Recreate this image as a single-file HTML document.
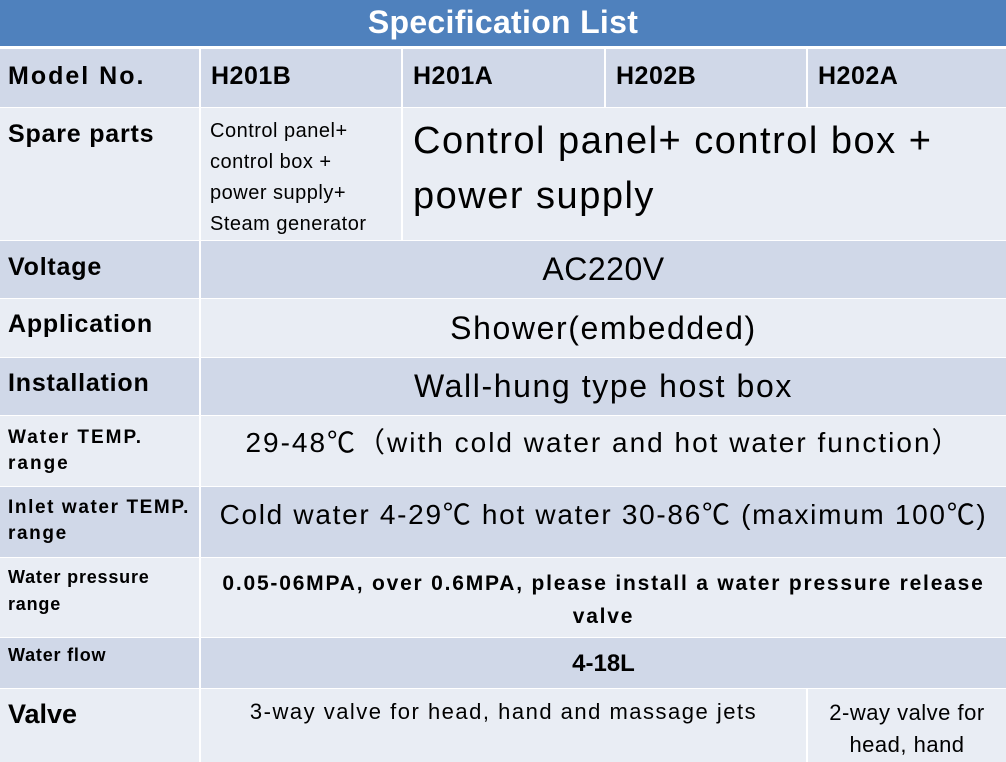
<!DOCTYPE html>
<html><head><meta charset="utf-8"><style>
body{margin:0;width:1006px;height:762px;overflow:hidden;background:#fff;font-family:"Liberation Sans","Noto Sans CJK SC",sans-serif;color:#000}
.c{position:absolute;box-sizing:border-box;overflow:hidden;white-space:nowrap}
.d{background:#D0D8E8}.l{background:#E9EDF4}
.b{font-weight:bold}
.ctr{text-align:center}
</style></head><body>
<div class="c" style="left:0;top:0;width:1006px;height:46px;background:#4F81BD;color:#fff;font-weight:bold;font-size:32px;text-align:center;line-height:44px;letter-spacing:0.3px">Specification List</div>
<div class="c d b" style="left:0;top:49px;width:199px;height:58px;font-size:25px;padding:13px 0 0 8px;letter-spacing:2px">Model No.</div>
<div class="c d b" style="left:201px;top:49px;width:200px;height:58px;font-size:25px;padding:13px 0 0 10px;letter-spacing:0.5px">H201B</div>
<div class="c d b" style="left:403px;top:49px;width:201px;height:58px;font-size:25px;padding:13px 0 0 10px;letter-spacing:0.5px">H201A</div>
<div class="c d b" style="left:606px;top:49px;width:200px;height:58px;font-size:25px;padding:13px 0 0 10px;letter-spacing:0.5px">H202B</div>
<div class="c d b" style="left:808px;top:49px;width:198px;height:58px;font-size:25px;padding:13px 0 0 10px;letter-spacing:0.5px">H202A</div>
<div class="c l b" style="left:0;top:108px;width:199px;height:132px;font-size:25px;padding:12px 0 0 8px;letter-spacing:0.8px">Spare parts</div>
<div class="c l" style="left:201px;top:108px;width:200px;height:132px;font-size:20px;line-height:31px;padding:8px 0 0 9px;letter-spacing:0.5px">Control panel+<br>control box +<br>power supply+<br>Steam generator</div>
<div class="c l" style="left:403px;top:108px;width:603px;height:132px;font-size:38px;line-height:55px;padding:6px 0 0 10px;letter-spacing:1.5px">Control panel+ control box +<br>power supply</div>
<div class="c d b" style="left:0;top:241px;width:199px;height:57px;font-size:25px;padding:12px 0 0 8px;letter-spacing:0.8px">Voltage</div>
<div class="c d ctr" style="left:201px;top:241px;width:805px;height:57px;font-size:32px;line-height:57px;letter-spacing:0.5px">AC220V</div>
<div class="c l b" style="left:0;top:299px;width:199px;height:58px;font-size:25px;padding:11px 0 0 8px;letter-spacing:0.8px">Application</div>
<div class="c l ctr" style="left:201px;top:299px;width:805px;height:58px;font-size:32px;line-height:58px;letter-spacing:1.6px">Shower(embedded)</div>
<div class="c d b" style="left:0;top:358px;width:199px;height:57px;font-size:25px;padding:11px 0 0 8px;letter-spacing:0.8px">Installation</div>
<div class="c d ctr" style="left:201px;top:358px;width:805px;height:57px;font-size:32px;line-height:57px;letter-spacing:1.6px">Wall-hung type host box</div>
<div class="c l b" style="left:0;top:416px;width:199px;height:70px;font-size:19px;line-height:26px;padding:9px 0 0 8px;letter-spacing:2px">Water TEMP.<br>range</div>
<div class="c l ctr" style="left:201px;top:416px;width:805px;height:70px;font-size:28px;line-height:54px;letter-spacing:2px">29-48℃（with cold water and hot water function）</div>
<div class="c d b" style="left:0;top:487px;width:199px;height:70px;font-size:19px;line-height:26px;padding:8px 0 0 8px;letter-spacing:1.6px">Inlet water TEMP.<br>range</div>
<div class="c d ctr" style="left:201px;top:487px;width:805px;height:70px;font-size:28px;line-height:56px;letter-spacing:1.7px">Cold water 4-29℃ hot water 30-86℃ (maximum 100℃)</div>
<div class="c l b" style="left:0;top:558px;width:199px;height:79px;font-size:18px;line-height:27px;padding:6px 0 0 8px;letter-spacing:0.8px">Water pressure<br>range</div>
<div class="c l b ctr" style="left:201px;top:558px;width:805px;height:79px;font-size:21px;line-height:33px;padding-top:9px;letter-spacing:1.8px">0.05-06MPA, over 0.6MPA, please install a water pressure release<br>valve</div>
<div class="c d b" style="left:0;top:638px;width:199px;height:50px;font-size:18px;padding:7px 0 0 8px;letter-spacing:0.8px">Water flow</div>
<div class="c d b ctr" style="left:201px;top:638px;width:805px;height:50px;font-size:24px;line-height:52px">4-18L</div>
<div class="c l b" style="left:0;top:689px;width:199px;height:73px;font-size:27px;padding:10px 0 0 8px">Valve</div>
<div class="c l ctr" style="left:201px;top:689px;width:605px;height:73px;font-size:22px;line-height:46px;letter-spacing:1.5px">3-way valve for head, hand and massage jets</div>
<div class="c l ctr" style="left:808px;top:689px;width:198px;height:73px;font-size:22px;line-height:32px;padding-top:8px;letter-spacing:0.5px">2-way valve for<br>head, hand</div>
</body></html>
